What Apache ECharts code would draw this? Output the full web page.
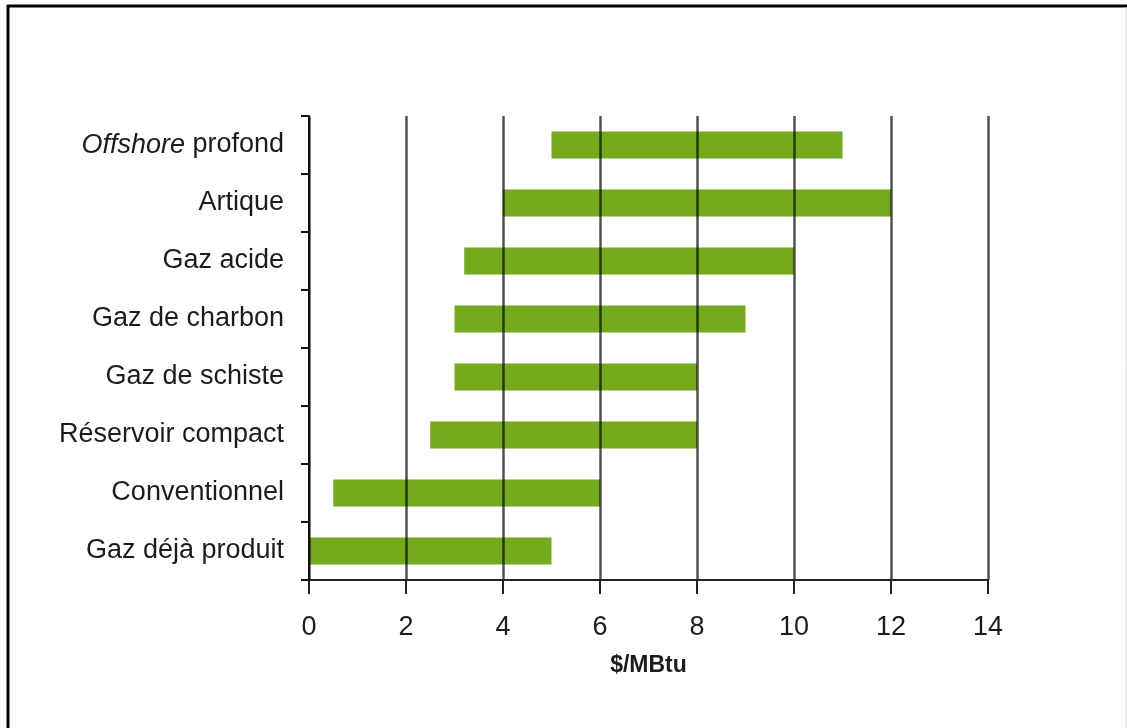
<!DOCTYPE html>
<html>
<head>
<meta charset="utf-8">
<script src="https://cdn.jsdelivr.net/npm/echarts@6/dist/echarts.min.js"></script>
<style>
  html, body { margin: 0; padding: 0; background: #fff; }
  #chart { width: 1127px; height: 728px; }
</style>
</head>
<body>
<div id="chart"></div>
<script>
// Cost ranges of natural gas supply by resource type ($/MBtu)
const categories = [
  'Offshore profond',
  'Artique',
  'Gaz acide',
  'Gaz de charbon',
  'Gaz de schiste',
  'Réservoir compact',
  'Conventionnel',
  'Gaz déjà produit'
];
const costLow  = [5, 4, 3.2, 3, 3, 2.5, 0.5, 0];
const costHigh = [11, 12, 10, 9, 8, 8, 6, 5];
const xTicks = [0, 2, 4, 6, 8, 10, 12, 14];

const span = costHigh.map((h, i) => h - costLow[i]);

const FONT = '"Liberation Sans", Arial, sans-serif';
const TEXT = '#1c1c1c';
const chart = echarts.init(document.getElementById('chart'));

chart.setOption({
  backgroundColor: '#ffffff',
  animation: false,
  grid: { left: 309, right: 139, top: 116, bottom: 148, containLabel: false },
  xAxis: {
    type: 'value',
    min: xTicks[0],
    max: xTicks[xTicks.length - 1],
    interval: 2,
    z: 10,
    name: '$/MBtu',
    nameLocation: 'middle',
    nameGap: 74,
    nameTextStyle: { fontFamily: FONT, fontSize: 23, fontWeight: 'bold', color: TEXT },
    axisLine: { show: true, lineStyle: { color: '#222', width: 2 } },
    axisTick: { show: true, length: 14, lineStyle: { color: '#222', width: 2 } },
    axisLabel: { margin: 34, fontFamily: FONT, fontSize: 27, color: TEXT },
    splitLine: { show: true, lineStyle: { color: 'rgba(0,0,0,0.68)', width: 2.5 } }
  },
  yAxis: {
    type: 'category',
    data: categories,
    inverse: true,
    z: 11,
    axisLine: { show: true, lineStyle: { color: '#111', width: 2 } },
    axisTick: { show: true, interval: 0, length: 8, alignWithLabel: false, lineStyle: { color: '#111', width: 2 } },
    axisLabel: {
      margin: 25,
      fontFamily: FONT,
      fontSize: 27,
      color: TEXT,
      formatter: function (v) {
        if (v.indexOf('Offshore') === 0) {
          return '{i|Offshore}' + v.slice('Offshore'.length);
        }
        return v;
      },
      rich: {
        i: { fontFamily: FONT, fontSize: 27, fontStyle: 'italic', color: TEXT }
      }
    },
    splitLine: { show: false }
  },
  series: [
    {
      name: 'base',
      type: 'bar',
      stack: 'range',
      barWidth: 27,
      silent: true,
      itemStyle: { color: 'transparent' },
      data: costLow
    },
    {
      name: 'range',
      type: 'bar',
      stack: 'range',
      barWidth: 27,
      itemStyle: { color: '#76aa1d' },
      data: span
    }
  ],
  graphic: [
    { type: 'line', shape: { x1: 7, y1: 6, x2: 1127, y2: 6 }, style: { stroke: '#000', lineWidth: 3 }, silent: true },
    { type: 'line', shape: { x1: 8, y1: 5, x2: 8, y2: 728 }, style: { stroke: '#000', lineWidth: 3 }, silent: true },
    { type: 'line', shape: { x1: 1126, y1: 7, x2: 1126, y2: 728 }, style: { stroke: '#d8d8d8', lineWidth: 1 }, silent: true }
  ]
});
</script>
</body>
</html>
